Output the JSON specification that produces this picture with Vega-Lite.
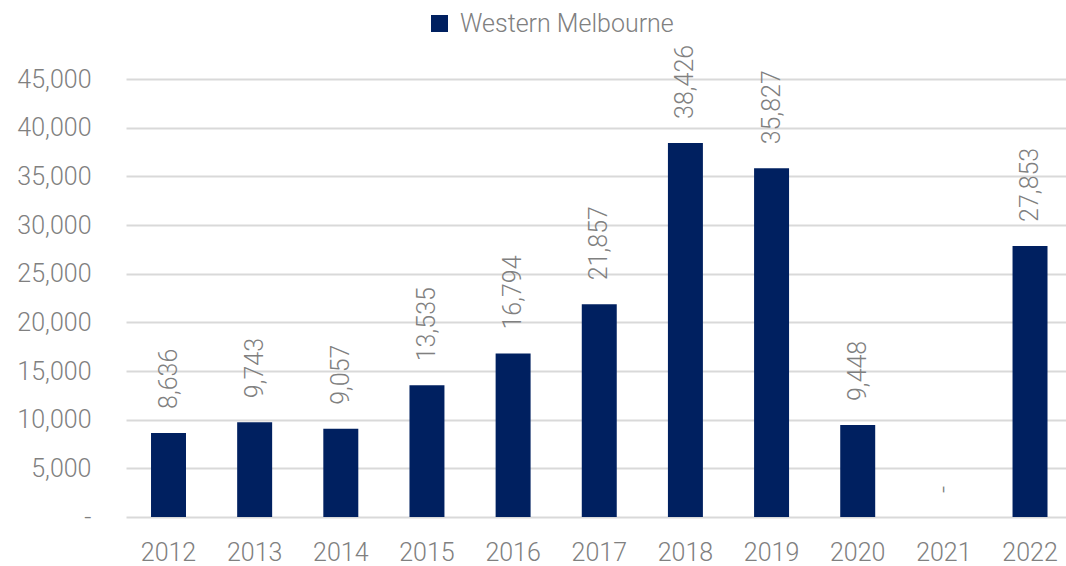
{
  "$schema": "https://vega.github.io/schema/vega-lite/v6.json",
  "autosize": "none",
  "width": 940,
  "height": 438,
  "padding": {"left": 126, "top": 79, "right": 0, "bottom": 49},
  "background": "white",
  "config": {
    "view": {"stroke": null},
    "font": "'Roboto Light', Roboto",
    "axis": {"labelFont": "'Roboto Light', Roboto", "labelFontWeight": 300, "labelColor": "#808080", "labelFontSize": 25}
  },
  "data": {
    "values": [
      {"year": "2012", "value": 8636, "series": "Western Melbourne"},
      {"year": "2013", "value": 9743, "series": "Western Melbourne"},
      {"year": "2014", "value": 9057, "series": "Western Melbourne"},
      {"year": "2015", "value": 13535, "series": "Western Melbourne"},
      {"year": "2016", "value": 16794, "series": "Western Melbourne"},
      {"year": "2017", "value": 21857, "series": "Western Melbourne"},
      {"year": "2018", "value": 38426, "series": "Western Melbourne"},
      {"year": "2019", "value": 35827, "series": "Western Melbourne"},
      {"year": "2020", "value": 9448, "series": "Western Melbourne"},
      {"year": "2021", "value": 0, "series": "Western Melbourne"},
      {"year": "2022", "value": 27853, "series": "Western Melbourne"}
    ]
  },
  "transform": [
    {"calculate": "datum.value == 0 ? '-' : format(datum.value, ',')", "as": "label"}
  ],
  "encoding": {
    "x": {
      "field": "year", "type": "nominal", "title": null,
      "scale": {"paddingInner": 0.594, "paddingOuter": 0.2525, "align": 0.575},
      "axis": {"labelAngle": 0, "domain": false, "ticks": false, "grid": false, "labelPadding": 23}
    },
    "y": {
      "field": "value", "type": "quantitative", "title": null,
      "scale": {"domain": [0, 45000], "nice": false},
      "axis": {
        "values": [0, 5000, 10000, 15000, 20000, 25000, 30000, 35000, 40000, 45000],
        "labelExpr": "datum.value == 0 ? '-\u00a0\u00a0' : format(datum.value, ',')",
        "domain": false, "ticks": false, "gridColor": "#d9d9d9", "gridWidth": 2,
        "labelPadding": 35
      }
    }
  },
  "layer": [
    {
      "mark": {"type": "bar", "color": "#002060"},
      "encoding": {
        "color": {
          "field": "series", "type": "nominal", "title": null,
          "scale": {"range": ["#002060"]},
          "legend": {
            "orient": "none", "legendX": 301, "legendY": -68,
            "symbolType": "square", "symbolSize": 289, "symbolStrokeWidth": 0,
            "symbolOpacity": 1, "labelLimit": 500,
            "labelFont": "'Roboto Light', Roboto", "labelFontWeight": 300, "labelFontSize": 25,
            "labelColor": "#808080", "labelOffset": 8
          }
        }
      }
    },
    {
      "mark": {"type": "text", "angle": 270, "align": "left", "baseline": "middle", "dx": 24,
        "font": "'Roboto Light', Roboto", "fontWeight": 300, "fontSize": 25, "color": "#808080"},
      "encoding": {
        "text": {"field": "label", "type": "nominal"}
      }
    }
  ]
}
